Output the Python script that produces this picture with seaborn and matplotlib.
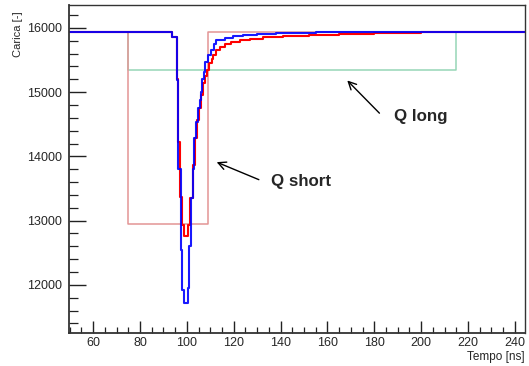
import numpy as np
import pandas as pd
import matplotlib
matplotlib.use("Agg")
import matplotlib.pyplot as plt
from matplotlib.ticker import MultipleLocator
import seaborn as sns

# ---- data ----
baseline = 15935
x_end = 245

blue_t = [50, 93.7, 95.6, 96.2, 97.4, 98.0, 98.8, 100.3, 100.8, 101.7, 102.6, 103.1,
          104.0, 104.8, 105.6, 106.2, 106.6, 107.3, 107.9, 109.0, 110.2, 111.6, 112.6,
          116.2, 119.7, 124.0, 129.7, 138.0, 155.0, 170.0]
blue_v = [15935, 15860, 15190, 13810, 12540, 11920, 11710, 11950, 12600, 13350, 13800, 14280,
          14540, 14750, 14880, 15005, 15210, 15320, 15470, 15575, 15650, 15757, 15809,
          15845, 15876, 15897, 15912, 15925, 15932, 15935]

red_t = [50, 93.7, 95.6, 96.2, 97.0, 97.7, 98.8, 100.3, 101.2, 102.4, 103.4, 104.3,
         105.2, 106.2, 106.9, 107.8, 108.4, 109.4, 110.5, 111.2, 112.6, 114.0, 116.2,
         119.0, 122.6, 126.8, 132.5, 141.0, 152.0, 165.0, 180.0, 200.0, 220.0]
red_v = [15935, 15860, 15210, 14230, 13370, 12930, 12760, 12930, 13350, 13870, 14280, 14565,
         14750, 14950, 15135, 15250, 15350, 15450, 15520, 15575, 15653, 15705, 15742,
         15782, 15809, 15835, 15855, 15876, 15895, 15910, 15922, 15930, 15935]

short_t = [50, 75, 109, 245]
short_v = [15935, 12940, 15935, 15935]
long_t = [50, 75, 215, 245]
long_v = [15935, 15340, 15935, 15935]

xticks = [60, 80, 100, 120, 140, 160, 180, 200, 220, 240]
yticks = [12000, 13000, 14000, 15000, 16000]


def steps(t, v):
    return pd.DataFrame({"t": list(t) + [x_end], "v": list(v) + [v[-1]]})


sns.set_style("ticks")
plt.rcParams["font.family"] = ["Liberation Sans", "DejaVu Sans"]

fig = plt.figure(figsize=(5.29, 3.66), dpi=100)
ax = fig.add_axes([0.131, 0.091, 0.861, 0.895])

sns.lineplot(data=steps(long_t, long_v), x="t", y="v", ax=ax, color="#96d6b6",
             drawstyle="steps-post", linewidth=1.1, estimator=None, sort=False)
sns.lineplot(data=steps(short_t, short_v), x="t", y="v", ax=ax, color="#e39595",
             drawstyle="steps-post", linewidth=1.1, estimator=None, sort=False)
sns.lineplot(data=steps(red_t, red_v), x="t", y="v", ax=ax, color="#ff0000",
             drawstyle="steps-post", linewidth=1.5, estimator=None, sort=False)
sns.lineplot(data=steps(blue_t, blue_v), x="t", y="v", ax=ax, color="#0000ff",
             drawstyle="steps-post", linewidth=1.5, estimator=None, sort=False, alpha=0.9)

ax.set_xlim(49.8, 244.2)
ax.set_ylim(11255, 16355)
ax.set_xticks(xticks)
ax.set_yticks(yticks)
ax.xaxis.set_minor_locator(MultipleLocator(5))
ax.yaxis.set_minor_locator(MultipleLocator(200))
ax.tick_params(axis="both", which="both", direction="in", bottom=True, left=True,
               top=False, right=False, color="#222222")
ax.tick_params(axis="both", which="major", labelsize=9, width=1.0)
ax.tick_params(axis="x", which="major", length=9, pad=3)
ax.tick_params(axis="y", which="major", length=12, pad=5)
ax.tick_params(axis="x", which="minor", length=4.5, width=0.9)
ax.tick_params(axis="y", which="minor", length=6.5, width=0.9)
for s in ax.spines.values():
    s.set_visible(True)
    s.set_color("#333333")
    s.set_linewidth(1.0)
ax.spines["left"].set_linewidth(1.3)
ax.spines["bottom"].set_linewidth(1.3)

ax.set_xlabel("")
ax.set_ylabel("")
fig.text(0.9924, 0.025, "Tempo [ns]", ha="right", va="center", fontsize=8.5)
fig.text(0.034, 0.986 - 0.018, "Carica [-]", ha="center", va="top", rotation=90, fontsize=8)

ax.annotate("", xy=(167.6, 15213), xytext=(183.0, 14642),
            arrowprops=dict(arrowstyle="->", color="black", lw=1.0, mutation_scale=14))
ax.text(200.0, 14616, "Q long", ha="center", va="center", fontsize=12.2, fontweight="bold")
ax.annotate("", xy=(111.6, 13927), xytext=(131.8, 13621),
            arrowprops=dict(arrowstyle="->", color="black", lw=1.0, mutation_scale=14))
ax.text(148.9, 13605, "Q short", ha="center", va="center", fontsize=12.2, fontweight="bold")

fig.savefig("out.png", dpi=100)
